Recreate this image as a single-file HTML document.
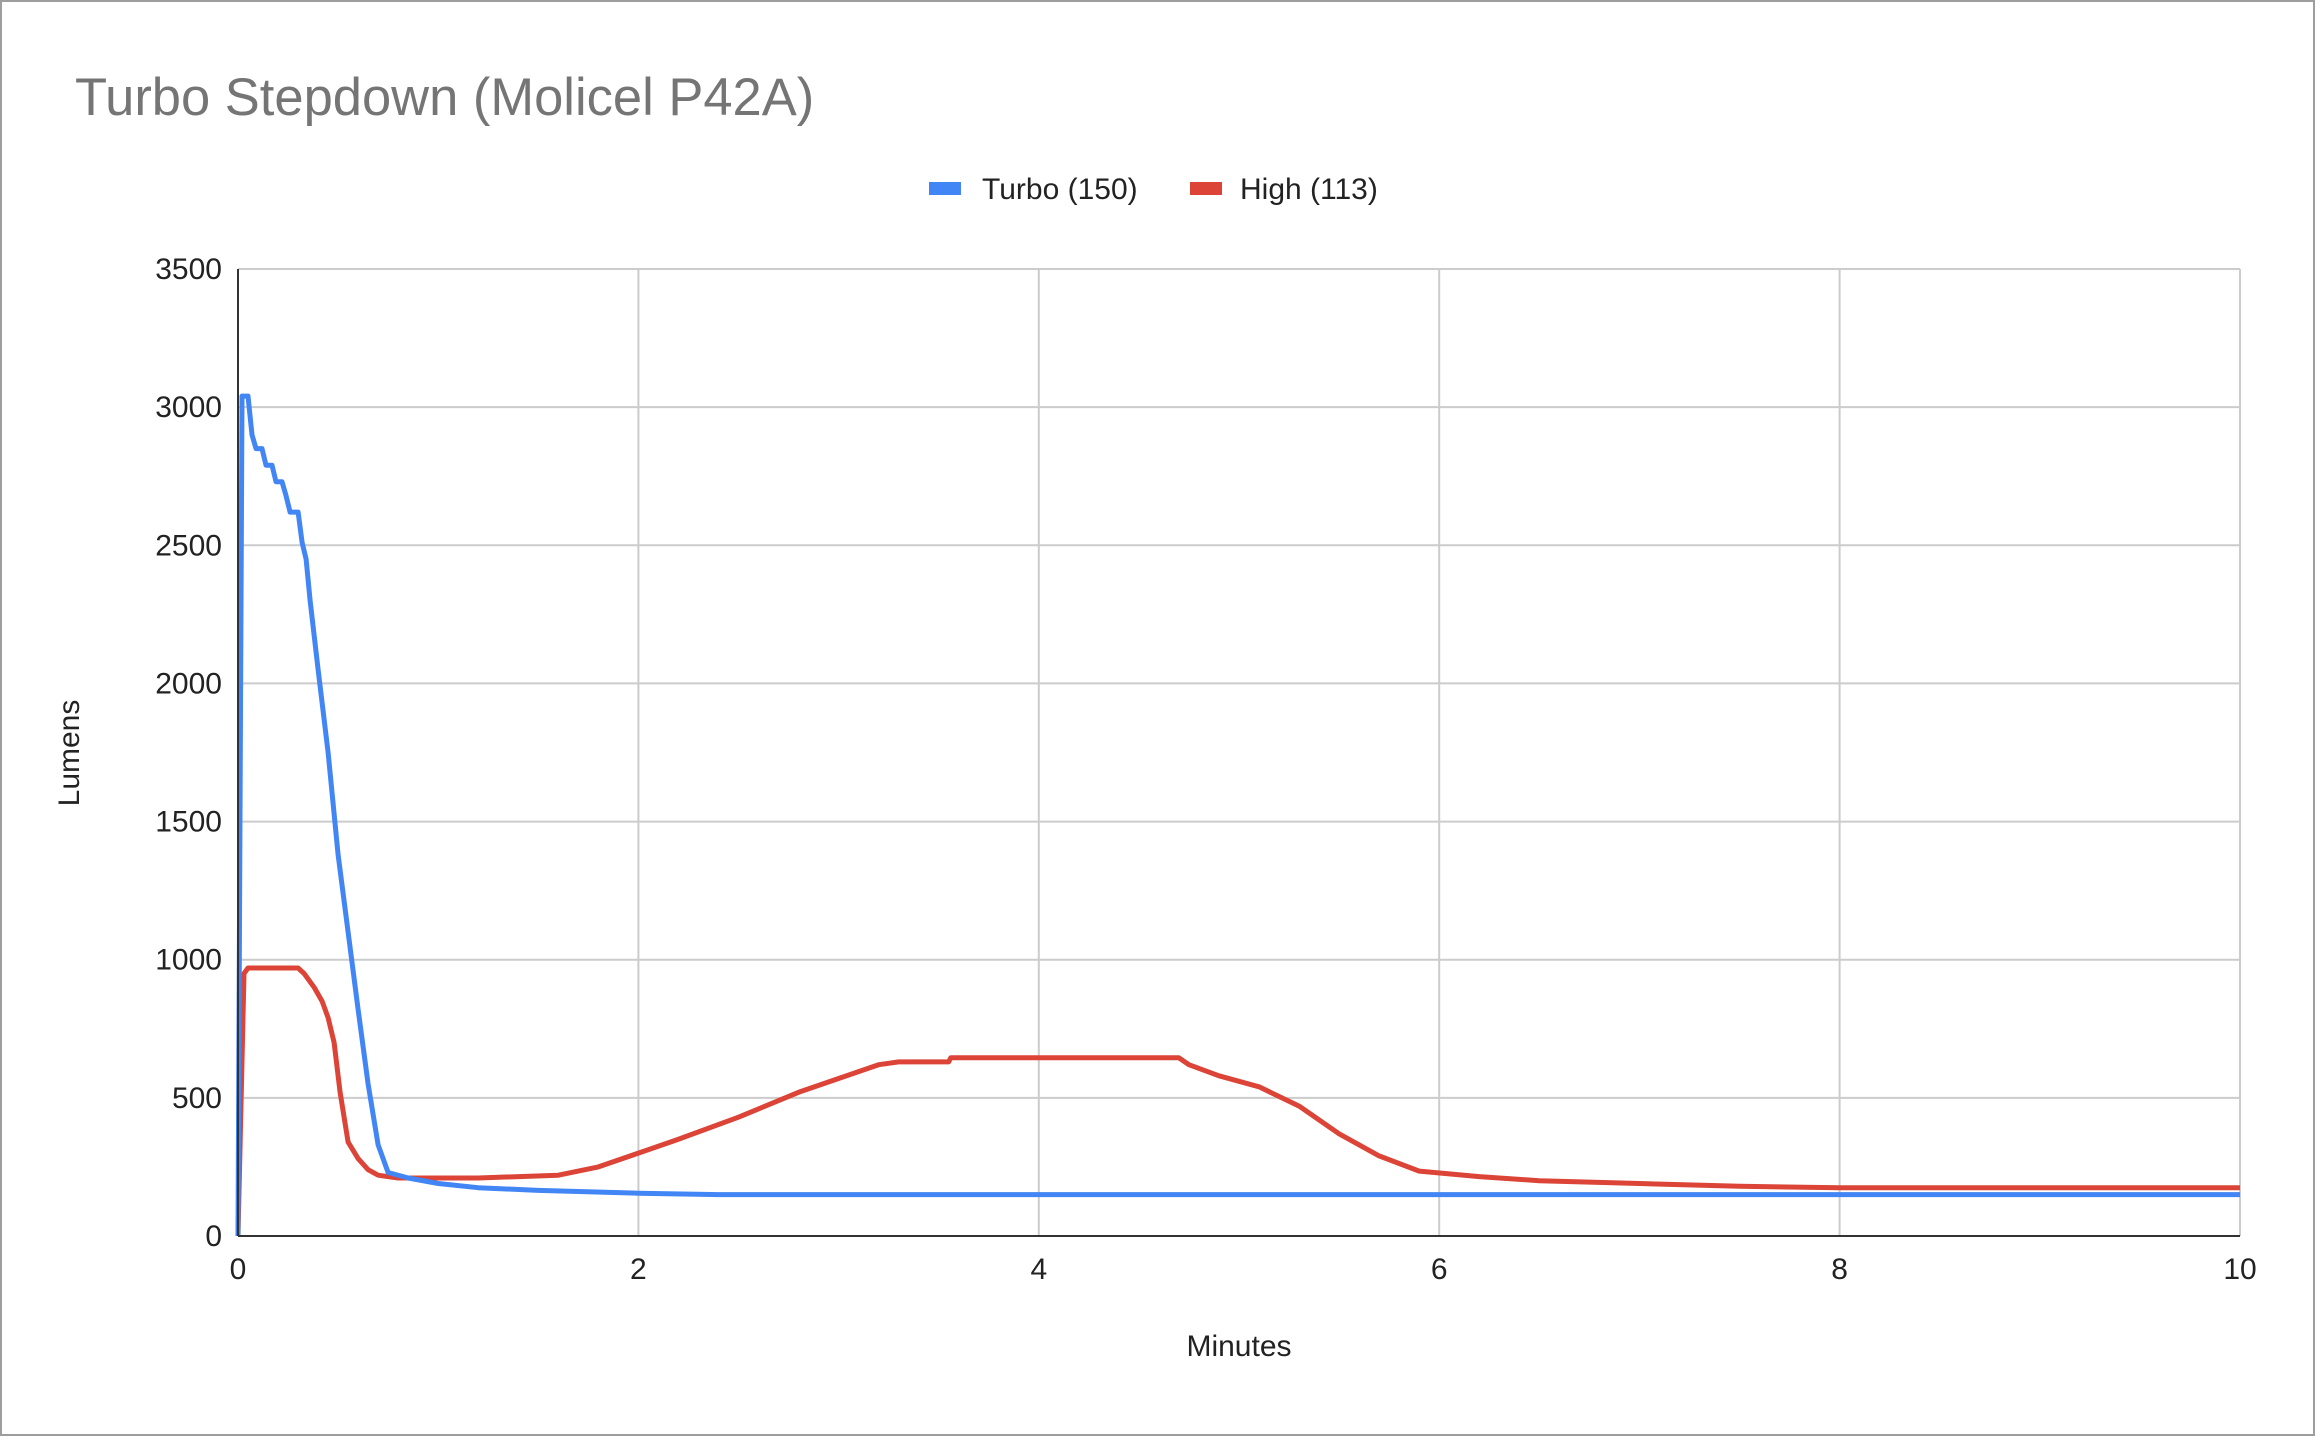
<!DOCTYPE html>
<html><head><meta charset="utf-8"><style>
html,body{margin:0;padding:0;background:#fff}
svg{display:block;font-family:"Liberation Sans",Arial,sans-serif}
</style></head><body>
<svg id="chart" width="2315" height="1436" viewBox="0 0 2315 1436">
<rect x="1" y="1" width="2313" height="1434" fill="#fff" stroke="#9e9e9e" stroke-width="2"/>
<text x="75" y="115" font-size="52.5" fill="#757575">Turbo Stepdown (Molicel P42A)</text>
<g>
<g><rect x="929" y="182" width="32" height="13" fill="#4285f4"/><text x="982" y="199" font-size="30" fill="#222">Turbo (150)</text></g>
<g><rect x="1190" y="182" width="32" height="13" fill="#db4437"/><text x="1240" y="199" font-size="30" fill="#222">High (113)</text></g>
</g>
<g id="grid"></g>
<g id="ticks"></g>
<g id="series"></g>
<line x1="238" y1="269" x2="238" y2="1236" stroke="#333" stroke-width="2"/>
<line x1="238" y1="1236" x2="2240" y2="1236" stroke="#333" stroke-width="2"/>
<text x="1239" y="1356" font-size="30" fill="#222" text-anchor="middle">Minutes</text>
<text x="0" y="0" font-size="30" fill="#222" text-anchor="middle" transform="translate(79,753) rotate(-90)">Lumens</text>
</svg>
<script>
const xTicks=[0,2,4,6,8,10];
const yTicks=[0,500,1000,1500,2000,2500,3000,3500];
const turboX=[0,0.02,0.05,0.07,0.09,0.12,0.14,0.17,0.19,0.22,0.24,0.26,0.3,0.32,0.34,0.36,0.4,0.45,0.5,0.55,0.6,0.65,0.7,0.75,0.85,1.0,1.2,1.5,2,2.4,10];
const turboY=[0,3040,3040,2900,2850,2850,2790,2790,2730,2730,2680,2620,2620,2510,2450,2300,2050,1750,1380,1100,820,550,330,230,210,190,175,165,155,150,150];
const highX=[0,0.03,0.05,0.3,0.33,0.38,0.42,0.45,0.48,0.51,0.55,0.6,0.65,0.7,0.8,1.2,1.6,1.8,2.0,2.2,2.5,2.8,3.0,3.2,3.3,3.55,3.56,4.7,4.75,4.9,5.1,5.3,5.5,5.7,5.9,6.2,6.5,7,7.5,8,10];
const highY=[0,950,970,970,950,900,850,790,700,520,340,280,240,220,210,210,220,250,300,350,430,520,570,620,630,630,645,645,620,580,540,470,370,290,235,215,200,190,180,175,175];
const L=238,R=2240,T=269,B=1236;
const xs=v=>L+(v-0)/10*(R-L);
const ys=v=>B-(v/3500)*(B-T);
const NS='http://www.w3.org/2000/svg';
const grid=document.getElementById('grid'),ticks=document.getElementById('ticks'),ser=document.getElementById('series');
yTicks.forEach(t=>{
 const l=document.createElementNS(NS,'line');
 l.setAttribute('x1',L);l.setAttribute('x2',R);l.setAttribute('y1',ys(t));l.setAttribute('y2',ys(t));
 l.setAttribute('stroke','#cccccc');l.setAttribute('stroke-width','2');
 
 
 grid.appendChild(l);
 const tx=document.createElementNS(NS,'text');
 tx.setAttribute('x',222);tx.setAttribute('y',ys(t)+10);tx.setAttribute('text-anchor','end');
 tx.setAttribute('font-size','30');tx.setAttribute('fill','#222');tx.textContent=t;
 
 
 ticks.appendChild(tx);
});
xTicks.forEach(t=>{
 const l=document.createElementNS(NS,'line');
 l.setAttribute('x1',xs(t));l.setAttribute('x2',xs(t));l.setAttribute('y1',T);l.setAttribute('y2',B);
 l.setAttribute('stroke','#cccccc');l.setAttribute('stroke-width','2');
 
 
 grid.appendChild(l);
 const tx=document.createElementNS(NS,'text');
 tx.setAttribute('x',xs(t));tx.setAttribute('y',1279);tx.setAttribute('text-anchor','middle');
 tx.setAttribute('font-size','30');tx.setAttribute('fill','#222');tx.textContent=t;
 
 
 ticks.appendChild(tx);
});
function line(xa,ya,color,name){
 const p=document.createElementNS(NS,'polyline');
 p.setAttribute('points',xa.map((x,i)=>xs(x).toFixed(1)+','+ys(ya[i]).toFixed(1)).join(' '));
 p.setAttribute('fill','none');p.setAttribute('stroke',color);p.setAttribute('stroke-width','5');
 p.setAttribute('stroke-linejoin','round');
 
 
 ser.appendChild(p);
}
line(highX,highY,'#db4437','high-series-line');
line(turboX,turboY,'#4285f4','turbo-series-line');
</script>
</body></html>
